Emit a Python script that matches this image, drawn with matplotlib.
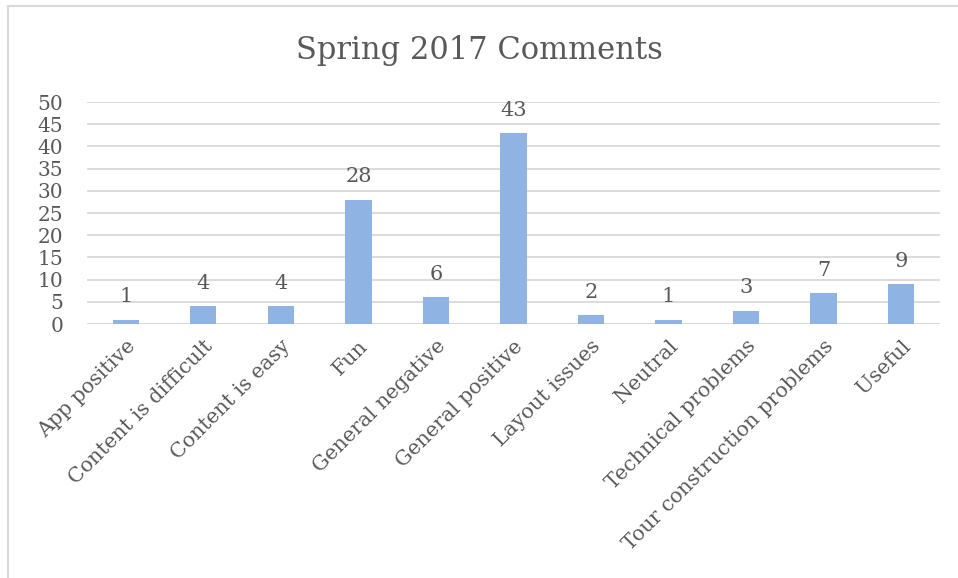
import matplotlib
matplotlib.use("Agg")
import matplotlib.pyplot as plt
from matplotlib.lines import Line2D

categories = ["App positive", "Content is difficult", "Content is easy", "Fun",
              "General negative", "General positive", "Layout issues", "Neutral",
              "Technical problems", "Tour construction problems", "Useful"]
counts = [1, 4, 4, 28, 6, 43, 2, 1, 3, 7, 9]
y_ticks = [0, 5, 10, 15, 20, 25, 30, 35, 40, 45, 50]

BAR_COLOR = "#8FB4E3"
TEXT_COLOR = "#595959"
GRID_COLOR = "#D9D9D9"

plt.rcParams["font.family"] = ["DejaVu Serif"]

fig = plt.figure(figsize=(9.58, 5.78), dpi=100)
ax = fig.add_axes([0.0908, 0.4394, 0.8902, 0.3841])

x = list(range(len(categories)))
bars = ax.bar(x, counts, width=0.34, color=BAR_COLOR, zorder=3)
for b, v in zip(bars, counts):
    ax.text(b.get_x() + b.get_width() / 2, v + 3.0, str(v), ha="center", va="bottom",
            fontsize=15, color=TEXT_COLOR)

ax.set_xlim(-0.5, len(categories) - 0.5)
ax.set_ylim(0, 50)
ax.set_yticks(y_ticks)
ax.yaxis.grid(True, color=GRID_COLOR, linewidth=1.3)
ax.set_axisbelow(True)
for s in ax.spines.values():
    s.set_visible(False)
ax.axhline(0, color=GRID_COLOR, linewidth=1.3, zorder=2)

ax.set_xticks(x)
ax.set_xticklabels(categories, rotation=45, ha="right", rotation_mode="anchor",
                   fontsize=14.8, color=TEXT_COLOR)
ax.tick_params(axis="x", length=0, pad=9)
ax.tick_params(axis="y", length=0, pad=17, labelsize=14.5, labelcolor=TEXT_COLOR)

fig.text(0.5, 0.913, "Spring 2017 Comments", ha="center", va="center",
         fontsize=22, color=TEXT_COLOR)

# light chart-area border (top and left visible)
fig.add_artist(Line2D([8 / 958, 8 / 958], [0, 1 - 6 / 578], transform=fig.transFigure,
                      color=GRID_COLOR, linewidth=1.5))
fig.add_artist(Line2D([8 / 958, 1], [1 - 6 / 578, 1 - 6 / 578], transform=fig.transFigure,
                      color=GRID_COLOR, linewidth=1.5))

fig.savefig("out.png", dpi=100)
